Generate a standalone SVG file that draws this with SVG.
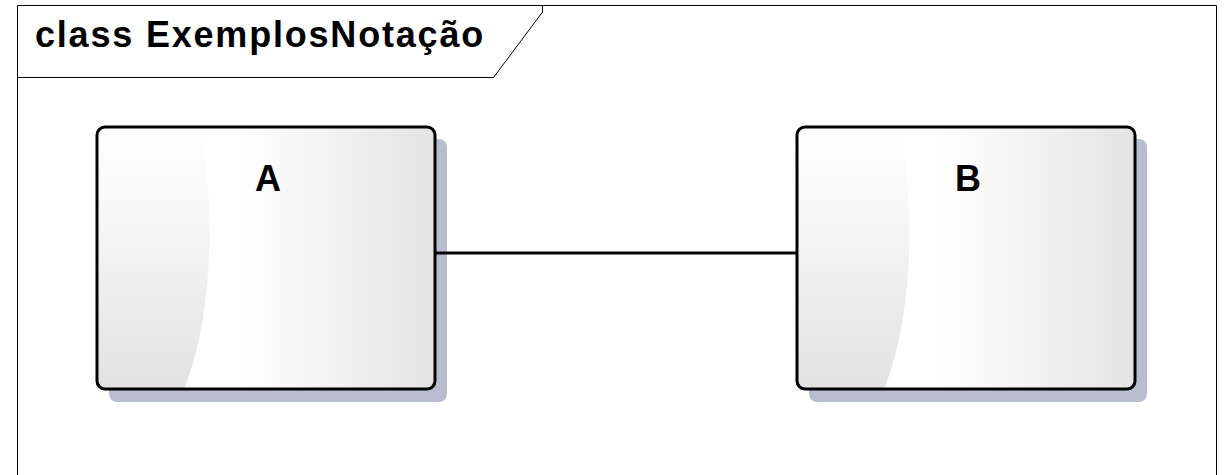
<svg xmlns="http://www.w3.org/2000/svg" width="1230" height="475" viewBox="0 0 1230 475">
  <defs>
    <linearGradient id="bodyFill" x1="0" y1="0" x2="1" y2="0">
      <stop offset="0" stop-color="#ffffff"/>
      <stop offset="0.42" stop-color="#ffffff"/>
      <stop offset="1" stop-color="#e4e4e4"/>
    </linearGradient>
    <linearGradient id="sheen" x1="0" y1="0" x2="0" y2="1">
      <stop offset="0" stop-color="#ffffff"/>
      <stop offset="0.3" stop-color="#f8f8f8"/>
      <stop offset="1" stop-color="#e2e2e2"/>
    </linearGradient>
    <clipPath id="clipA"><rect x="97" y="127" width="338" height="262" rx="8"/></clipPath>
    <clipPath id="clipB"><rect x="797" y="127" width="338" height="262" rx="8"/></clipPath>
  </defs>
  <style>
    .frame { fill: none; stroke: #000; stroke-width: 1; }
    .title { font-family: "Liberation Sans", Arial, sans-serif; font-weight: bold; font-size: 36px; letter-spacing: 1.8px; fill: #000; }
    .shadow { fill: #b9bdd0; }
    .body { fill: url(#bodyFill); }
    .sheen { fill: url(#sheen); }
    .outline { fill: none; stroke: #000; stroke-width: 3; }
    .name { font-family: "Liberation Sans", Arial, sans-serif; font-weight: bold; font-size: 36px; fill: #000; text-anchor: middle; }
    .conn { fill: none; stroke: #000; stroke-width: 3; }
  </style>
  <rect width="1230" height="475" fill="#fff"/>

  <!-- diagram frame with name tab -->
  <g id="frame">
    <path class="frame" d="M17.5,480 V5.5 H1216.5 V480"/>
    <path class="frame" d="M17.5,77.5 H493.5 L542.5,12 V5.5"/>
    <text class="title" x="35" y="47">class ExemplosNotação</text>
  </g>

  <!-- class A -->
  <g id="classA">
    <rect class="shadow" x="109" y="139" width="338" height="263" rx="8"/>
    <rect class="body" x="97" y="127" width="338" height="262" rx="8"/>
    <path class="sheen" clip-path="url(#clipA)" d="M97,127 H199 C214,190 216,310 184,389 H97 Z"/>
    <rect class="outline" x="97" y="127" width="338" height="262" rx="8"/>
    <text class="name" x="268" y="191">A</text>
  </g>

  <!-- class B -->
  <g id="classB">
    <rect class="shadow" x="809" y="139" width="338" height="263" rx="8"/>
    <rect class="body" x="797" y="127" width="338" height="262" rx="8"/>
    <path class="sheen" clip-path="url(#clipB)" d="M797,127 H899 C914,190 916,310 884,389 H797 Z"/>
    <rect class="outline" x="797" y="127" width="338" height="262" rx="8"/>
    <text class="name" x="968" y="191">B</text>
  </g>

  <!-- connectors -->
  <g id="connectors">
    <line class="conn" x1="436" y1="253" x2="797" y2="253"/>
  </g>
</svg>
